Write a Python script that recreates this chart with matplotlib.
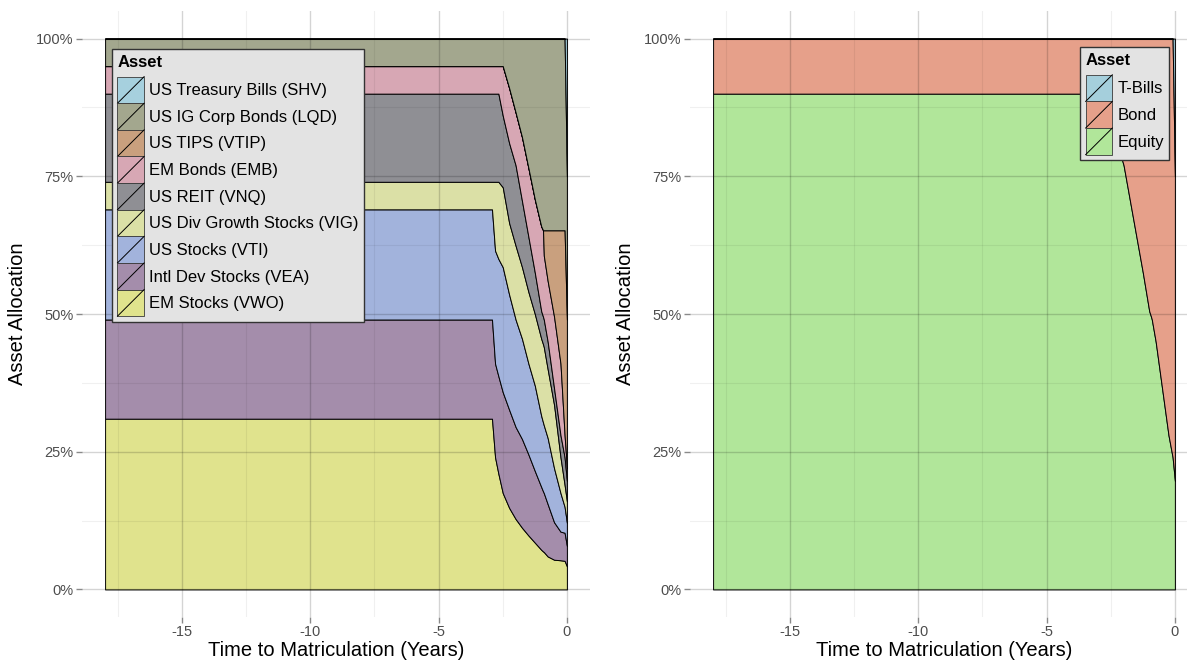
import matplotlib
matplotlib.use('Agg')
import matplotlib.pyplot as plt
import numpy as np
from matplotlib.patches import Patch, Rectangle
from matplotlib.lines import Line2D
from matplotlib.legend_handler import HandlerBase
from matplotlib.ticker import FuncFormatter

plt.rcParams['font.family'] = ['Liberation Sans', 'DejaVu Sans']
plt.rcParams['axes.unicode_minus'] = False

# years before matriculation
years = [-18, -2.92, -2.8, -2.67, -2.5, -2.25, -2.0, -1.75, -1.5, -1.25,
         -1.0, -0.93, -0.9, -0.75, -0.5, -0.25, -0.09, 0]

# allocation per fund (%)
vwo = [31, 31, 24, 21, 17.5, 14.8, 12.8, 11.2, 9.8, 8.5, 7.2, 6.9, 6.8, 6.0, 5.4, 5.3, 5.2, 4.2]
vea = [18, 18, 17, 17.7, 18.3, 17.8, 16.7, 16.1, 14.7, 13, 11.4, 10.9, 10.7, 9.5, 6.8, 5.2, 5.1, 3.7]
vti = [20, 20, 20.5, 21.3, 22.7, 20.9, 19.5, 18.2, 16.5, 15.5, 12.9, 12.5, 12.3, 12, 9.8, 7, 4.7, 4.2]
vig = [5, 5, 12.5, 14, 14.5, 13, 13.4, 13, 13, 13, 14, 14.2, 14.2, 12.5, 11.5, 6.5, 4, 3.9]
vnq = [16, 16, 16, 16, 13, 14.5, 14.6, 12, 10, 7.5, 5, 5, 5, 5, 3, 4, 5, 3.7]
emb = [5, 5, 5, 5, 9, 10, 9.6, 11.6, 12.5, 13.3, 15.4, 15.7, 11.6, 11, 13, 13, 4, 2.3]
vtip = [0, 0, 0, 0, 0, 0, 0, 0, 0, 0, 0, 0, 4.6, 9.2, 15.7, 24.2, 37.2, 27]
lqd = [5, 5, 5, 5, 5, 9, 13.4, 17.9, 23.5, 29.2, 34.1, 34.8, 34.8, 34.8, 34.8, 34.8, 34.8, 26]
shv = [0, 0, 0, 0, 0, 0, 0, 0, 0, 0, 0, 0, 0, 0, 0, 0, 0, 25]

fund_names = ['EM Stocks (VWO)', 'Intl Dev Stocks (VEA)', 'US Stocks (VTI)',
              'US Div Growth Stocks (VIG)', 'US REIT (VNQ)', 'EM Bonds (EMB)',
              'US TIPS (VTIP)', 'US IG Corp Bonds (LQD)', 'US Treasury Bills (SHV)']
fund_colors = ['#e0e38d', '#a48dab', '#a2b3dc', '#dbe0a6', '#8f8f94',
               '#d7a7b4', '#c9a07e', '#a3a78e', '#a6d0de']

class_names = ['Equity', 'Bond', 'T-Bills']
class_colors = ['#b1e69a', '#e6a08a', '#a5cfdc']


class KeyHandler(HandlerBase):
    # ggplot style key: filled box with a diagonal stroke
    def create_artists(self, legend, orig_handle, xdescent, ydescent,
                       width, height, fontsize, trans):
        x0, y0 = -xdescent, -ydescent
        box = Rectangle((x0, y0), width, height,
                        facecolor=orig_handle.get_facecolor(),
                        edgecolor='#3a3a3a', linewidth=0.6, transform=trans)
        diag = Line2D([x0, x0 + width], [y0, y0 + height],
                      color='black', linewidth=0.7, transform=trans)
        return [box, diag]


def style_axes(ax):
    ax.set_xlim(-18.9, 0.9)
    ax.set_ylim(-5, 105)
    ax.set_xticks([-15, -10, -5, 0])
    ax.set_xticks([-17.5, -12.5, -7.5, -2.5], minor=True)
    ax.set_yticks([0, 25, 50, 75, 100])
    ax.set_yticks([12.5, 37.5, 62.5, 87.5], minor=True)
    ax.yaxis.set_major_formatter(FuncFormatter(lambda v, p: f'{int(v)}%'))
    for s in ax.spines.values():
        s.set_visible(False)
    ax.tick_params(which='major', length=4, width=1, color='#8a8a8a',
                   labelcolor='#4d4d4d', labelsize=10.5, pad=2)
    ax.tick_params(which='minor', length=0)
    ax.set_axisbelow(False)
    ax.grid(which='major', color='black', alpha=0.17, linewidth=1.0)
    ax.grid(which='minor', color='black', alpha=0.06, linewidth=0.8)
    ax.set_xlabel('Time to Matriculation (Years)', fontsize=14.5, labelpad=1)
    ax.set_ylabel('Asset Allocation', fontsize=14.5)
    ax.yaxis.set_label_coords(-0.108, 0.5)


def add_legend(ax, names, colors, anchor):
    handles = [Patch(facecolor=c) for c in colors][::-1]
    leg = ax.legend(handles, names[::-1], title='Asset', loc='upper left',
                    bbox_to_anchor=anchor, borderaxespad=0,
                    handler_map={Patch: KeyHandler()},
                    handlelength=1.6, handleheight=2.08, labelspacing=0,
                    handletextpad=0.3, borderpad=0.33, fontsize=12,
                    title_fontsize=12, fancybox=False, framealpha=1,
                    facecolor='#e3e3e3', edgecolor='#333333', alignment='left')
    leg.get_title().set_fontweight('bold')
    leg.get_frame().set_linewidth(1)
    # small gap between title and keys
    leg._legend_box.sep = 5


fig = plt.figure(figsize=(11.87, 6.6), dpi=100)
axL = fig.add_axes([82 / 1187, 43 / 660, 508 / 1187, 606 / 660])
axR = fig.add_axes([690 / 1187, 43 / 660, 508 / 1187, 606 / 660])

# left: fund level glide path
axL.stackplot(years, vwo, vea, vti, vig, vnq, emb, vtip, lqd, shv,
              colors=fund_colors, edgecolor='black', linewidth=0.7)
style_axes(axL)
add_legend(axL, fund_names, fund_colors, (0.059, 0.937))

# right: asset class totals
equity = np.sum([vwo, vea, vti, vig, vnq], axis=0)
bond = np.sum([emb, vtip, lqd], axis=0)
tbills = np.array(shv)
axR.stackplot(years, equity, bond, tbills,
              colors=class_colors, edgecolor='black', linewidth=0.7)
style_axes(axR)
add_legend(axR, class_names, class_colors, (0.768, 0.94))

fig.savefig('out.png', dpi=100)
